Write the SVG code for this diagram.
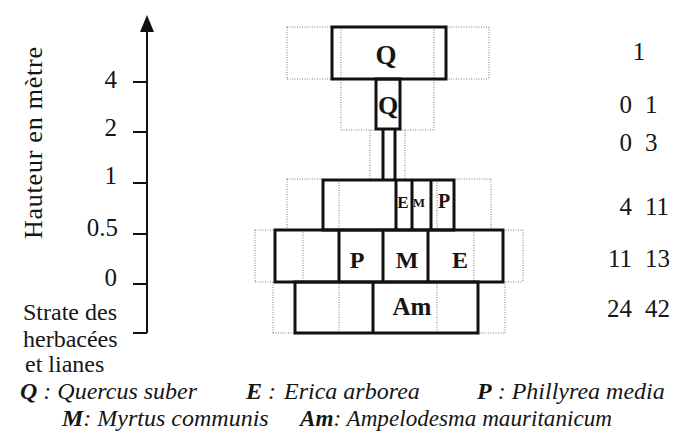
<svg xmlns="http://www.w3.org/2000/svg" width="678" height="439" viewBox="0 0 678 439">
  <style>
    .box { fill: none; stroke: #111; stroke-width: 3; }
    .solid { stroke: #111; stroke-width: 3; fill: none; }
    .dot { stroke: #7a7a7a; stroke-width: 1; stroke-dasharray: 1 1.5; fill: none; }
    .axis { stroke: #111; stroke-width: 2; fill: none; }
    text { font-family: "Liberation Serif", "Times New Roman", serif; fill: #151515; }
    .lbl { font-weight: bold; text-anchor: middle; }
    .leg { font-style: italic; font-size: 24px; }
    .b { font-weight: bold; }
  </style>
  <rect width="678" height="439" fill="#ffffff"/>

  <!-- height axis -->
  <g id="axis">
    <line class="axis" x1="147" y1="28" x2="147" y2="333"/>
    <polygon points="147,15 140,32 154,32" fill="#111"/>
    <path class="axis" d="M133 82H147M133 132H147M133 183H147M133 234H147M133 284H147M133 333H147"/>
    <g font-size="25" text-anchor="end">
      <text x="117" y="88">4</text>
      <text x="117" y="136">2</text>
      <text x="117" y="184">1</text>
      <text x="118" y="236">0.5</text>
      <text x="117" y="286">0</text>
    </g>
    <text font-size="26" transform="translate(42,143) rotate(-90)" text-anchor="middle" textLength="192">Hauteur en mètre</text>
    <g font-size="24">
      <text x="23" y="320">Strate des</text>
      <text x="23" y="347">herbacées</text>
      <text x="25" y="372">et lianes</text>
    </g>
  </g>

  <!-- stratum above 4 m -->
  <g id="strate-4m">
    <path class="dot" d="M287 27H332M446 27H489M287 79H332M446 79H489M287 27V79M489 27V79"/>
    <path class="dot" d="M341 27V130M434 27V130M341 130H376M400 130H434"/>
    <rect class="box" x="332" y="27" width="114" height="52"/>
    <text class="lbl" x="386" y="64" font-size="27">Q</text>
  </g>

  <!-- stratum 2 to 4 m -->
  <g id="strate-2m">
    <rect class="box" x="376" y="79" width="24" height="50"/>
    <text class="lbl" x="388" y="114" font-size="26">Q</text>
  </g>

  <!-- stem between 1 and 2 m -->
  <g id="connectors">
    <path class="dot" d="M370 130V180M405 130V180"/>
    <path class="solid" d="M383 129V180M395 129V180"/>
  </g>

  <!-- stratum 0.5 to 1 m -->
  <g id="strate-1m">
    <path class="dot" d="M287 179H323M454 179H491M287 179V230M491 179V230M339 180V230M437 180V230"/>
    <rect class="box" x="323" y="180" width="131" height="50"/>
    <path class="solid" d="M396 180V230M412 180V230M431 180V230"/>
    <text class="lbl" x="403" y="208" font-size="17">E</text>
    <text class="lbl" x="419" y="207" font-size="13">M</text>
    <text class="lbl" x="444" y="208" font-size="20">P</text>
  </g>

  <!-- stratum 0 to 0.5 m -->
  <g id="strate-05m">
    <path class="dot" d="M255 230H275M503 230H523M255 282H275M503 282H523M255 230V282M523 230V282M303 230V282M474 230V282"/>
    <rect class="box" x="275" y="230" width="228" height="52"/>
    <path class="solid" d="M339 230V282M383 230V282M428 230V282"/>
    <text class="lbl" x="357" y="268" font-size="24">P</text>
    <text class="lbl" x="407" y="268" font-size="24">M</text>
    <text class="lbl" x="460" y="268" font-size="24">E</text>
  </g>

  <!-- herbaceous and climbing stratum -->
  <g id="strate-herbacees">
    <path class="dot" d="M273 333H295M478 333H505M273 282V333M505 282V333M339 282V333M437 282V333"/>
    <rect class="box" x="295" y="282" width="183" height="51"/>
    <path class="solid" d="M373 282V333"/>
    <text class="lbl" x="412" y="315" font-size="25">Am</text>
  </g>

  <!-- species counts per stratum -->
  <g id="counts" font-size="25">
    <text x="639" y="60" text-anchor="middle">1</text>
    <text x="632" y="113" text-anchor="end">0</text><text x="645" y="113">1</text>
    <text x="632" y="151" text-anchor="end">0</text><text x="645" y="151">3</text>
    <text x="632" y="215" text-anchor="end">4</text><text x="645" y="215">11</text>
    <text x="632" y="267" text-anchor="end">11</text><text x="645" y="267">13</text>
    <text x="632" y="317" text-anchor="end">24</text><text x="645" y="317">42</text>
  </g>

  <!-- species legend -->
  <g id="legend">
    <text class="leg" x="20" y="399"><tspan class="b">Q</tspan> : Quercus suber</text>
    <text class="leg" x="246" y="399"><tspan class="b">E</tspan> :<tspan dx="8">Erica arborea</tspan></text>
    <text class="leg" x="477" y="399"><tspan class="b">P</tspan> : Phillyrea media</text>
    <text class="leg" x="62" y="426"><tspan class="b">M</tspan>: Myrtus communis</text>
    <text class="leg" x="300" y="426" textLength="312" lengthAdjust="spacingAndGlyphs"><tspan class="b">Am</tspan>: Ampelodesma mauritanicum</text>
  </g>
</svg>
